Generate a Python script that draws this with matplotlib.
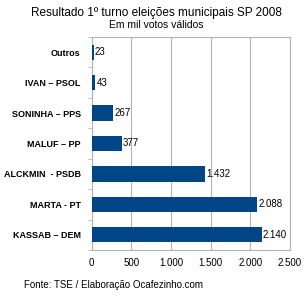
import matplotlib
matplotlib.use("Agg")
import matplotlib.pyplot as plt
from matplotlib.ticker import FuncFormatter, MultipleLocator

categories = ["Outros", "IVAN – PSOL", "SONINHA – PPS", "MALUF – PP", "ALCKMIN  - PSDB", "MARTA - PT", "KASSAB – DEM"]
values = [23, 43, 267, 377, 1432, 2088, 2140]
xticks = [0, 500, 1000, 1500, 2000, 2500]

plt.rcParams['font.family'] = ['Liberation Sans', 'DejaVu Sans']

def fmt(v):
    return f"{int(v):,}".replace(",", ".")

fig = plt.figure(figsize=(3.06, 2.98), dpi=100)
ax = fig.add_axes([0.30, 0.161, 0.648, 0.715])
ypos = list(range(len(categories)))
ax.barh(ypos, values, height=0.5, color="#004586", zorder=3)
ax.set_ylim(len(categories) - 0.5, -0.5)
ax.set_xlim(0, 2500)
ax.set_xticks(xticks)
ax.xaxis.set_major_formatter(FuncFormatter(lambda v, p: fmt(v)))
ax.set_yticks(ypos)
ax.set_yticklabels(categories, fontweight="bold", fontsize=6.5)
ax.set_yticks([i + 0.5 for i in range(-1, len(categories))], minor=True)
ax.tick_params(axis="y", which="major", length=0, pad=8)
ax.tick_params(axis="y", which="minor", length=3, color="#b3b3b3", direction="out")
ax.tick_params(axis="x", length=0, labelsize=7, pad=6, colors="#000000")
ax.grid(axis="x", color="#b3b3b3", linewidth=0.8, zorder=0)
for s in ax.spines.values():
    s.set_color("#b3b3b3")
    s.set_linewidth(0.8)
for y, v in zip(ypos, values):
    ax.text(v + 15, y, fmt(v), va="center", ha="left", fontsize=7, zorder=4)

fig.text(0.51, 0.955, "Resultado 1º turno eleições municipais SP 2008", ha="center", va="center", fontsize=8.5)
fig.text(0.51, 0.917, "Em mil votos válidos", ha="center", va="center", fontsize=7.5)
fig.text(0.08, 0.045, "Fonte: TSE / Elaboração Ocafezinho.com", ha="left", va="center", fontsize=7)
fig.savefig("out.png", dpi=100)
